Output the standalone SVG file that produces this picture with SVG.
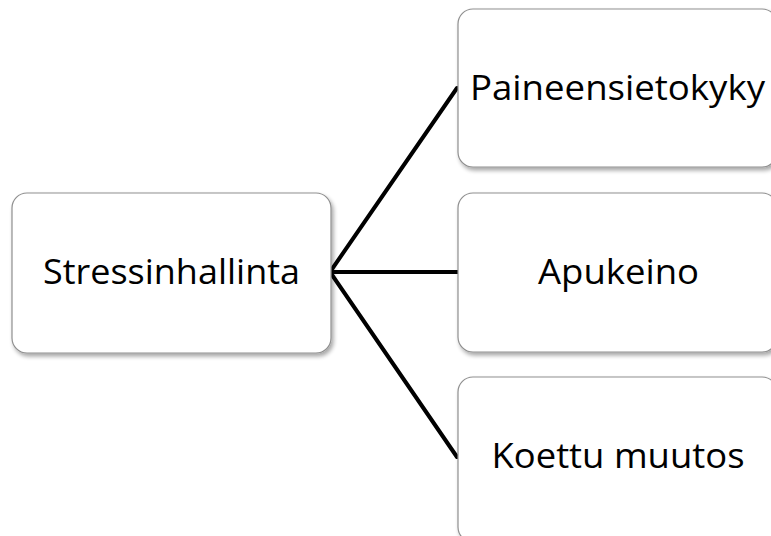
<svg xmlns="http://www.w3.org/2000/svg" width="771" height="536" viewBox="0 0 771 536">
  <defs>
    <filter id="shadow" x="-10%" y="-10%" width="130%" height="130%">
      <feGaussianBlur in="SourceAlpha" stdDeviation="2"/>
      <feOffset dx="2" dy="3" result="b"/>
      <feComponentTransfer><feFuncA type="linear" slope="0.35"/></feComponentTransfer>
      <feMerge><feMergeNode/><feMergeNode in="SourceGraphic"/></feMerge>
    </filter>
  </defs>
  <style>
    .box { fill: #ffffff; stroke: #8f8f8f; stroke-width: 1.2; filter: url(#shadow); }
    .label { font-family: "Open Sans", "Liberation Sans", sans-serif; font-size: 35px; fill: #000000; text-anchor: middle; }
    .link { stroke: #000000; stroke-width: 4; fill: none; stroke-linecap: round; stroke-linejoin: miter; }
  </style>
  <rect width="771" height="536" fill="#ffffff"/>

  <g id="connectors">
    <path class="link" d="M457,88 L330,272 L457,457"/>
    <line class="link" x1="330" y1="272" x2="458" y2="272"/>
  </g>

  <g id="node-stressinhallinta">
    <rect class="box" x="12" y="193" width="319" height="160" rx="15"/>
    <text class="label" x="171.5" y="284" textLength="257" lengthAdjust="spacingAndGlyphs">Stressinhallinta</text>
  </g>

  <g id="node-paineensietokyky">
    <rect class="box" x="458" y="9" width="319" height="158" rx="15"/>
    <text class="label" x="617.5" y="100" textLength="295" lengthAdjust="spacingAndGlyphs">Paineensietokyky</text>
  </g>

  <g id="node-apukeino">
    <rect class="box" x="458" y="193" width="319" height="159" rx="15"/>
    <text class="label" x="618.5" y="284" textLength="161" lengthAdjust="spacingAndGlyphs">Apukeino</text>
  </g>

  <g id="node-koettu-muutos">
    <rect class="box" x="458" y="377" width="319" height="165" rx="15"/>
    <text class="label" x="618" y="468" textLength="253" lengthAdjust="spacingAndGlyphs">Koettu muutos</text>
  </g>
</svg>
